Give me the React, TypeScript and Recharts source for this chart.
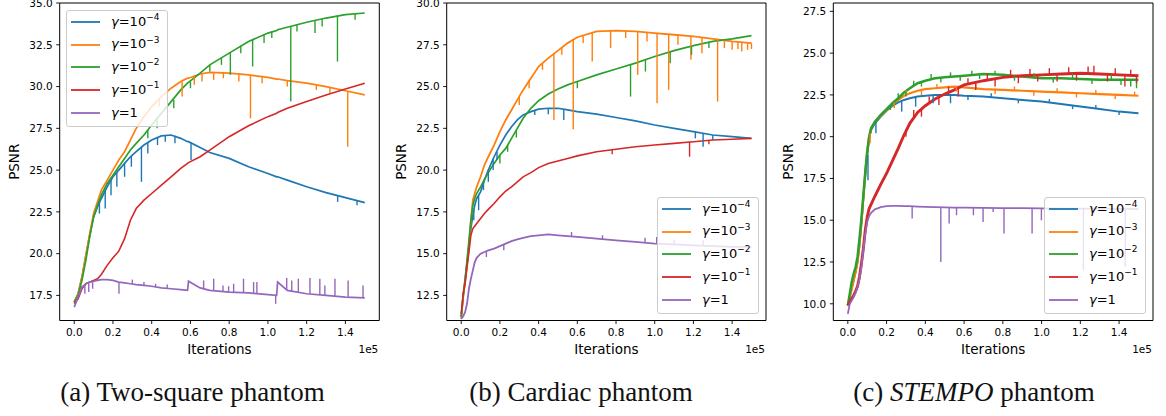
import React from 'react'
import { LineChart, Line, XAxis, YAxis, ReferenceLine, ReferenceArea, Label } from 'recharts'

// matplotlib tab10, in plotting order
const COLORS = ['#1f77b4', '#ff7f0e', '#2ca02c', '#d62728', '#9467bd']
const GAMMA_EXP = ['\u22124', '\u22123', '\u22122', '\u22121', '']

const X_TICKS = [0, 20000, 40000, 60000, 80000, 100000, 120000, 140000]
const X_DOMAIN: [number, number] = [-7500, 157500]

// (a) two-square phantom
const yTicksA = [17.5, 20, 22.5, 25, 27.5, 30, 32.5, 35]
const itersA = [0, 2000, 4000, 6000, 8000, 10000, 12000, 14000, 17000, 20000, 23000, 26000, 29000, 32000, 36000, 40000, 45000, 50000, 55000, 58500, 59000, 65000, 70000, 80000, 90000, 100000, 104500, 105000, 110000, 120000, 130000, 140000, 150000]
const psnrA_g4 = [17.1, 17.6, 18.6, 19.9, 21.1, 22.2, 22.8, 23.3, 24.0, 24.6, 25.0, 25.4, 25.8, 26.1, 26.5, 26.8, 27.05, 27.1, 26.9, 26.7, 26.7, 26.35, 26.05, 25.7, 25.2, 24.8, 24.6, 24.6, 24.4, 24.0, 23.65, 23.35, 23.05]
const psnrA_g3 = [17.1, 17.6, 18.6, 19.9, 21.2, 22.4, 23.1, 23.8, 24.4, 25.0, 25.6, 26.1, 26.8, 27.5, 28.2, 28.8, 29.4, 29.9, 30.3, 30.5, 30.5, 30.75, 30.85, 30.8, 30.7, 30.55, 30.45, 30.45, 30.35, 30.2, 30.0, 29.75, 29.5]
const psnrA_g2 = [17.1, 17.5, 18.4, 19.6, 21.0, 22.2, 22.9, 23.5, 24.2, 24.7, 25.2, 25.7, 26.2, 26.6, 27.1, 27.7, 28.4, 29.1, 29.8, 30.2, 30.25, 30.8, 31.3, 32.0, 32.7, 33.2, 33.35, 33.4, 33.55, 33.85, 34.1, 34.3, 34.4]
const psnrA_g1 = [17.0, 17.3, 17.9, 18.2, 18.3, 18.4, 18.5, 18.75, 19.3, 19.75, 20.15, 20.9, 22.0, 22.7, 23.2, 23.6, 24.1, 24.6, 25.1, 25.4, 25.45, 25.8, 26.2, 27.0, 27.65, 28.2, 28.4, 28.45, 28.7, 29.1, 29.5, 29.85, 30.2]
const psnrA_g0 = [16.8, 17.4, 18.0, 18.2, 18.3, 18.35, 18.4, 18.45, 18.45, 18.4, 18.3, 18.25, 18.2, 18.15, 18.1, 18.05, 17.95, 17.9, 17.85, 17.8, 18.35, 17.95, 17.8, 17.7, 17.65, 17.55, 17.5, 18.3, 17.8, 17.6, 17.5, 17.4, 17.35]

// spikes: [iteration, curve value, spike tip]
type Spike = [number, number, number]
const spikesA_g4: Spike[] = [[13000, 23.1, 22.4], [16000, 23.8, 22.7], [19000, 24.4, 23.5], [22000, 24.85, 24.0], [26000, 25.4, 24.6], [29500, 25.85, 25.2], [34700, 26.4, 24.3], [38000, 26.65, 26.0], [43000, 26.95, 26.5], [47000, 27.1, 26.7], [52000, 27.05, 26.6], [60300, 26.65, 25.6], [136000, 23.45, 23.1], [146000, 23.15, 22.9]]
const spikesA_g3: Spike[] = [[44000, 29.3, 28.8], [48000, 29.7, 29.2], [55700, 30.3, 29.4], [62000, 30.65, 30.1], [66000, 30.75, 30.3], [72000, 30.85, 30.4], [77000, 30.85, 30.5], [85000, 30.75, 30.3], [91000, 30.7, 28.1], [97000, 30.6, 30.2], [110000, 30.35, 30.0], [125000, 30.1, 29.8], [132000, 29.95, 29.6], [141200, 29.7, 26.4]]
const spikesA_g2: Spike[] = [[38000, 27.4, 26.9], [42800, 28.1, 27.5], [51400, 29.2, 28.7], [60000, 30.3, 29.9], [70000, 31.3, 30.9], [76000, 31.7, 31.3], [80600, 32.05, 30.7], [86000, 32.45, 32.0], [92100, 32.8, 31.2], [98000, 33.1, 32.6], [102000, 33.3, 32.9], [111800, 33.6, 29.1], [115000, 33.75, 33.3], [124300, 33.95, 33.2], [128000, 34.05, 33.6], [135900, 34.2, 31.5], [145000, 34.35, 34.0]]
const spikesA_g1: Spike[] = []
const spikesA_g0: Spike[] = [[5500, 18.15, 17.6], [7500, 18.3, 17.7], [9500, 18.35, 17.9], [23100, 18.3, 17.6], [104000, 17.5, 17.0], [30000, 18.2, 18.45], [36000, 18.1, 18.3], [42000, 18.0, 18.2], [48000, 17.95, 18.15], [66800, 17.9, 18.4], [72000, 17.8, 18.5], [76800, 17.75, 18.1], [79700, 17.7, 18.05], [82300, 17.7, 18.2], [87400, 17.65, 18.5], [92600, 17.6, 18.3], [94300, 17.6, 18.3], [109700, 17.8, 18.55], [112300, 17.75, 18.4], [115700, 17.7, 18.5], [121700, 17.6, 18.55], [126800, 17.55, 18.5], [129400, 17.5, 18.1], [134600, 17.45, 18.5], [141400, 17.4, 18.4], [149100, 17.35, 18.1]]

// (b) cardiac phantom
const yTicksB = [12.5, 15, 17.5, 20, 22.5, 25, 27.5, 30]
const itersB = [0, 1000, 2000, 3000, 4000, 5000, 6000, 7000, 8000, 10000, 12000, 14000, 17000, 20000, 23000, 26000, 29000, 32000, 36000, 40000, 45000, 50000, 55000, 60000, 70000, 80000, 90000, 100000, 110000, 120000, 130000, 140000, 150000]
const psnrB_g4 = [11.2, 12.4, 13.4, 14.4, 15.5, 16.5, 17.3, 17.9, 18.3, 18.7, 19.4, 20.0, 20.8, 21.5, 22.1, 22.6, 23.0, 23.3, 23.5, 23.65, 23.7, 23.7, 23.6, 23.5, 23.35, 23.15, 22.95, 22.7, 22.5, 22.3, 22.1, 22.0, 21.9]
const psnrB_g3 = [11.1, 12.4, 13.3, 14.3, 15.4, 17.0, 18.2, 18.6, 19.0, 19.6, 20.3, 20.8, 21.5, 22.3, 23.0, 23.6, 24.2, 24.8, 25.5, 26.2, 26.7, 27.15, 27.6, 27.95, 28.3, 28.35, 28.3, 28.2, 28.1, 28.0, 27.85, 27.7, 27.6]
const psnrB_g2 = [11.2, 12.5, 13.5, 14.6, 15.8, 17.0, 17.9, 18.3, 18.6, 19.0, 19.45, 19.85, 20.4, 20.9, 21.3, 21.9, 22.5, 23.1, 23.7, 24.15, 24.55, 24.85, 25.1, 25.3, 25.7, 26.05, 26.4, 26.8, 27.15, 27.45, 27.7, 27.85, 28.05]
const psnrB_g1 = [11.4, 12.6, 13.2, 14.2, 15.1, 16.1, 16.5, 16.65, 16.8, 17.1, 17.4, 17.65, 18.0, 18.4, 18.75, 19.0, 19.3, 19.6, 19.85, 20.15, 20.4, 20.55, 20.7, 20.85, 21.1, 21.25, 21.4, 21.5, 21.6, 21.7, 21.8, 21.85, 21.9]
const psnrB_g0 = [11.1, 11.25, 11.5, 12.0, 12.9, 13.5, 14.0, 14.5, 14.75, 15.0, 15.1, 15.2, 15.3, 15.45, 15.6, 15.75, 15.85, 15.95, 16.05, 16.1, 16.15, 16.1, 16.05, 16.0, 15.9, 15.8, 15.7, 15.6, 15.55, 15.5, 15.45, 15.4, 15.4]
const spikesB_g4: Spike[] = [[6500, 17.6, 17.0], [9000, 18.5, 17.6], [11500, 19.3, 18.8], [14000, 20.0, 19.3], [16500, 20.7, 20.0], [18500, 21.1, 20.6], [38000, 23.6, 23.3], [45000, 23.7, 23.35], [53000, 23.65, 23.0], [121000, 22.3, 21.9], [125000, 22.2, 21.4], [130000, 22.1, 21.8]]
const spikesB_g3: Spike[] = [[30000, 24.4, 23.9], [35100, 25.4, 24.9], [42000, 26.4, 26.0], [47900, 27.0, 23.0], [52000, 27.35, 26.9], [57900, 27.85, 22.45], [63000, 28.05, 27.6], [67700, 28.25, 26.5], [77200, 28.35, 27.3], [85000, 28.35, 27.9], [91200, 28.3, 25.7], [96000, 28.25, 27.7], [101200, 28.2, 24.0], [107200, 28.1, 24.8], [112000, 28.1, 27.5], [118700, 28.0, 26.6], [124400, 27.95, 27.0], [132500, 27.85, 24.1], [136000, 27.78, 27.3], [140000, 27.7, 27.2], [143000, 27.68, 27.25], [145000, 27.65, 27.1], [148000, 27.6, 27.2], [150000, 27.6, 27.25]]
const spikesB_g2: Spike[] = [[20000, 20.9, 20.4], [24000, 21.5, 21.1], [28500, 22.4, 21.95], [60000, 25.3, 24.9], [87500, 26.3, 24.4], [95200, 26.6, 25.9], [108000, 27.1, 26.4], [119000, 27.4, 26.9], [128000, 27.65, 27.3]]
const spikesB_g1: Spike[] = [[78000, 21.2, 20.95], [118000, 21.7, 20.8], [128000, 21.8, 21.55]]
const spikesB_g0: Spike[] = [[13000, 15.15, 14.8], [22000, 15.55, 15.2], [57000, 16.0, 16.3], [73000, 15.85, 16.1], [95000, 15.65, 15.95], [101000, 15.6, 16.0], [110000, 15.55, 15.85], [125000, 15.5, 15.8]]

// (c) STEMPO phantom
const yTicksC = [10, 12.5, 15, 17.5, 20, 22.5, 25, 27.5]
const itersC = [0, 1000, 2000, 3000, 4000, 5000, 6000, 7000, 8000, 9000, 10000, 11000, 12000, 14000, 17000, 20000, 23000, 26000, 29000, 32000, 36000, 40000, 45000, 50000, 55000, 60000, 70000, 80000, 90000, 100000, 110000, 120000, 130000, 140000, 150000]
const psnrC_g4 = [9.9, 10.4, 10.9, 11.4, 11.9, 12.5, 13.5, 14.8, 16.3, 17.7, 18.9, 19.9, 20.4, 20.8, 21.2, 21.55, 21.85, 22.05, 22.2, 22.3, 22.4, 22.45, 22.5, 22.5, 22.5, 22.45, 22.4, 22.3, 22.2, 22.1, 21.95, 21.8, 21.65, 21.5, 21.4]
const psnrC_g3 = [9.9, 10.4, 10.9, 11.4, 11.9, 12.5, 13.5, 14.8, 16.3, 17.8, 19.1, 20.0, 20.5, 20.9, 21.25, 21.6, 21.95, 22.2, 22.45, 22.6, 22.75, 22.85, 22.9, 22.95, 23.0, 22.95, 22.85, 22.8, 22.75, 22.7, 22.65, 22.6, 22.55, 22.5, 22.45]
const psnrC_g2 = [9.9, 10.6, 11.3, 11.8, 12.2, 12.8, 13.9, 15.1, 16.5, 17.9, 19.1, 20.0, 20.5, 20.9, 21.3, 21.65, 22.0, 22.3, 22.65, 22.9, 23.2, 23.35, 23.5, 23.55, 23.6, 23.65, 23.75, 23.7, 23.6, 23.5, 23.5, 23.45, 23.4, 23.4, 23.4]
const psnrC_g1 = [9.9, 10.1, 10.3, 10.5, 10.75, 11.05, 11.6, 12.4, 13.3, 14.4, 15.2, 15.7, 15.95, 16.45, 17.15, 17.8, 18.55, 19.3, 20.1, 20.8, 21.45, 21.85, 22.25, 22.55, 22.8, 23.1, 23.35, 23.55, 23.65, 23.7, 23.75, 23.8, 23.75, 23.7, 23.65]
const psnrC_g0 = [9.4, 10.0, 10.2, 10.4, 10.65, 11.0, 11.5, 12.2, 13.2, 14.2, 14.9, 15.25, 15.45, 15.65, 15.78, 15.84, 15.86, 15.86, 15.85, 15.84, 15.82, 15.8, 15.78, 15.77, 15.76, 15.75, 15.74, 15.73, 15.72, 15.71, 15.7, 15.7, 15.69, 15.68, 15.67]
const spikesC_g4: Spike[] = [[10400, 18.9, 17.4], [14500, 20.85, 20.2], [27800, 22.15, 21.5], [35000, 22.4, 21.8], [44000, 22.5, 22.0], [53000, 22.5, 22.0], [62000, 22.45, 22.2], [74000, 22.37, 22.6], [88000, 22.22, 22.0], [104000, 22.04, 22.25], [116000, 21.86, 21.65], [128000, 21.68, 21.9], [140000, 21.5, 21.3]]
const spikesC_g3: Spike[] = [[11500, 20.2, 19.6], [24000, 22.05, 21.7], [30000, 22.5, 22.8], [38000, 22.8, 22.5], [46000, 22.9, 23.15], [56000, 23.0, 22.7], [66000, 22.9, 23.15], [76000, 22.82, 22.55], [86000, 22.77, 23.0], [96000, 22.72, 22.45], [108000, 22.66, 22.9], [118000, 22.61, 22.35], [128000, 22.56, 22.8], [138000, 22.51, 22.25], [148000, 22.46, 22.7]]
const spikesC_g2: Spike[] = [[22000, 21.9, 21.6], [26000, 22.3, 22.6], [30000, 22.7, 22.4], [34000, 23.05, 23.35], [38000, 23.3, 23.0], [43000, 23.45, 23.75], [48000, 23.53, 23.25], [53000, 23.57, 23.85], [58000, 23.63, 23.35], [64000, 23.7, 23.95], [68000, 23.73, 23.45], [76000, 23.72, 23.95], [86000, 23.65, 23.35], [96000, 23.55, 23.8], [106000, 23.5, 23.25], [116000, 23.47, 23.75], [126000, 23.43, 23.15], [136000, 23.4, 23.7], [141000, 23.4, 23.1], [146000, 23.4, 23.0], [149000, 23.4, 22.9]]
const spikesC_g1: Spike[] = [[30000, 20.45, 20.0], [34000, 21.15, 21.6], [38000, 21.65, 21.2], [42000, 22.0, 22.4], [47000, 22.4, 21.9], [52000, 22.65, 23.0], [57000, 22.9, 22.4], [62000, 23.15, 23.5], [66000, 23.25, 22.8], [72000, 23.4, 23.8], [76000, 23.45, 23.0], [84000, 23.6, 24.0], [88000, 23.63, 23.2], [94000, 23.67, 24.05], [98000, 23.7, 23.3], [104000, 23.72, 24.1], [108000, 23.74, 23.3], [114000, 23.77, 24.15], [118000, 23.79, 23.35], [124000, 23.78, 24.2], [127000, 23.77, 24.25], [134000, 23.73, 23.3], [138000, 23.71, 24.1], [143000, 23.7, 23.0], [146000, 23.67, 24.0], [149000, 23.65, 23.2]]
const spikesC_g0: Spike[] = [[33200, 15.84, 15.1], [48000, 15.78, 12.5], [52300, 15.77, 14.8], [56100, 15.76, 15.3], [64800, 15.75, 15.3], [69800, 15.74, 14.9], [75000, 15.73, 15.5], [80600, 15.73, 14.2], [95100, 15.71, 14.2], [99900, 15.71, 15.0], [121600, 15.7, 12.0], [143200, 15.68, 12.2]]

type Panel = {
  left: number
  marginLeft: number
  marginRight: number
  yDomain: [number, number]
  yTicks: number[]
  iters: number[]
  series: number[][]
  spikes: Spike[][]
  strokes: number[]
  legend: { left: number; top: number }
  captionX: number
  caption: React.ReactNode
}

const PANELS: Panel[] = [
  {
    left: 0, marginLeft: 9.7, marginRight: 10.7, yDomain: [16, 35], yTicks: yTicksA, iters: itersA,
    series: [psnrA_g4, psnrA_g3, psnrA_g2, psnrA_g1, psnrA_g0],
    spikes: [spikesA_g4, spikesA_g3, spikesA_g2, spikesA_g1, spikesA_g0],
    strokes: [1.7, 1.7, 1.7, 1.6, 1.7],
    legend: { left: 66, top: 10 }, captionX: 192.5,
    caption: <>(a) Two-square phantom</>,
  },
  {
    left: 390, marginLeft: 6.7, marginRight: 14, yDomain: [11, 30], yTicks: yTicksB, iters: itersB,
    series: [psnrB_g4, psnrB_g3, psnrB_g2, psnrB_g1, psnrB_g0],
    spikes: [spikesB_g4, spikesB_g3, spikesB_g2, spikesB_g1, spikesB_g0],
    strokes: [1.7, 1.8, 1.7, 1.6, 1.8],
    legend: { left: 267, top: 197 }, captionX: 191,
    caption: <>(b) Cardiac phantom</>,
  },
  {
    left: 776, marginLeft: 7.3, marginRight: 13, yDomain: [9, 28], yTicks: yTicksC, iters: itersC,
    series: [psnrC_g4, psnrC_g3, psnrC_g2, psnrC_g1, psnrC_g0],
    spikes: [spikesC_g4, spikesC_g3, spikesC_g2, spikesC_g1, spikesC_g0],
    strokes: [2.0, 2.2, 2.5, 2.9, 1.8],
    legend: { left: 268, top: 197 }, captionX: 198,
    caption: <>(c) <i>STEMPO</i> phantom</>,
  },
]

const FONT = 'DejaVu Sans'

// legend box drawn over the plot (matplotlib style, 80% opaque)
const LegendBox = ({ left, top }: { left: number; top: number }) => (
  <div
    style={{
      position: 'absolute', left, top, zIndex: 5,
      boxSizing: 'border-box', width: 102, height: 117, background: 'rgba(255,255,255,0.8)',
      border: '1px solid #cccccc', borderRadius: 3, padding: '0 0 0 4px',
      fontFamily: FONT, fontSize: 13, color: '#000',
    }}
  >
    {GAMMA_EXP.map((exp, i) => (
      <div key={i} style={{ display: 'flex', alignItems: 'center', height: 22.6 }}>
        <svg width={29} height={4} style={{ marginRight: 11, display: 'block' }}>
          <line x1={0} y1={2} x2={29} y2={2} stroke={COLORS[i]} strokeWidth={1.8} />
        </svg>
        <span style={{ whiteSpace: 'nowrap', lineHeight: '13px' }}>
          <span style={{ fontStyle: 'italic' }}>γ</span>=
          {exp ? (
            <>
              10<span style={{ fontSize: 9, position: 'relative', top: -5.5 }}>{exp}</span>
            </>
          ) : (
            '1'
          )}
        </span>
      </div>
    ))}
  </div>
)

const PanelChart = ({ p }: { p: Panel }) => {
  return (
    <div style={{ position: 'absolute', left: p.left, top: 0, width: 390, height: 416 }}>
      <LineChart
        width={390}
        height={365}
        margin={{ top: 3, right: p.marginRight, bottom: 14.5, left: p.marginLeft }}
        style={{ fontFamily: FONT }}
      >
        <XAxis
          dataKey='x'
          type='number'
          domain={X_DOMAIN}
          allowDataOverflow
          ticks={X_TICKS}
          interval={0}
          tickFormatter={(v: number) => (v / 1e5).toFixed(1)}
          axisLine={false}
          tickLine={{ stroke: '#000', strokeWidth: 0.9 }}
          tickSize={3.5}
          tickMargin={5}
          height={30}
          tick={{ fill: '#000', fontSize: 10.5, fontFamily: FONT }}
        >
          <Label
            content={(lp: any) => (
              <text x={lp.viewBox.x + lp.viewBox.width / 2} y={lp.viewBox.y + 33.8} textAnchor='middle' fontSize={13.5} fontFamily={FONT} fill='#000'>
                Iterations
              </text>
            )}
          />
          <Label
            content={(lp: any) => (
              <text x={lp.viewBox.x + lp.viewBox.width - 1} y={lp.viewBox.y + 32} textAnchor='end' fontSize={10.5} fontFamily={FONT} fill='#000'>
                1e5
              </text>
            )}
          />
        </XAxis>
        <YAxis
          type='number'
          domain={p.yDomain}
          allowDataOverflow
          ticks={p.yTicks}
          interval={0}
          tickFormatter={(v: number) => v.toFixed(1)}
          axisLine={false}
          tickLine={{ stroke: '#000', strokeWidth: 0.9 }}
          tickSize={3.5}
          tickMargin={3.5}
          width={50}
          tick={{ fill: '#000', fontSize: 10.5, fontFamily: FONT }}
        >
          <Label
            content={(lp: any) => {
              const x = lp.viewBox.x + lp.viewBox.width - 40.5
              const y = lp.viewBox.y + lp.viewBox.height / 2
              return (
                <text x={x} y={y} transform={`rotate(-90 ${x} ${y})`} textAnchor='middle' fontSize={13.5} fontFamily={FONT} fill='#000'>
                  PSNR
                </text>
              )
            }}
          />
        </YAxis>
        {p.series.map((vals, i) => (
          <Line
            key={`s${i}`}
            data={p.iters.map((x, j) => ({ x, y: vals[j] }))}
            dataKey='y'
            name={`g${i}`}
            type='linear'
            stroke={COLORS[i]}
            strokeWidth={p.strokes[i]}
            dot={false}
            activeDot={false}
            isAnimationActive={false}
          />
        ))}
        {p.spikes.map((list, i) =>
          list.map(([x, base, tip], j) => (
            <ReferenceLine
              key={`k${i}-${j}`}
              segment={[{ x, y: base }, { x, y: tip }]}
              stroke={COLORS[i]}
              strokeWidth={1.4}
            />
          ))
        )}
        <ReferenceArea
          x1={X_DOMAIN[0]}
          x2={X_DOMAIN[1]}
          y1={p.yDomain[0]}
          y2={p.yDomain[1]}
          fill='none'
          stroke='#000'
          strokeWidth={1}
        />
      </LineChart>
      <LegendBox left={p.legend.left} top={p.legend.top} />
      <div
        style={{
          position: 'absolute', left: p.captionX - 200, top: 379, width: 400, textAlign: 'center',
          fontFamily: 'Liberation Serif', fontSize: 27, lineHeight: '27.5px', color: '#111', whiteSpace: 'nowrap',
        }}
      >
        {p.caption}
      </div>
    </div>
  )
}

export default function App() {
  return (
    <div style={{ position: 'absolute', left: 0, top: 0, width: 1166, height: 416, background: '#fff', overflow: 'hidden' }}>
      {PANELS.map((p, k) => (
        <PanelChart key={k} p={p} />
      ))}
    </div>
  )
}
